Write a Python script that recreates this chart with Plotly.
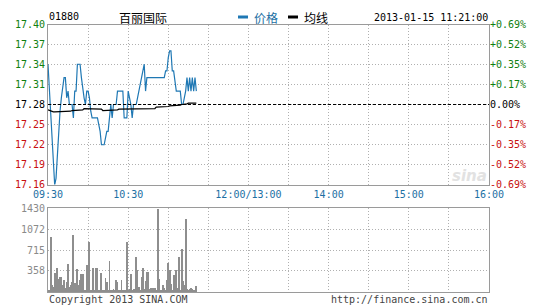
import numpy as np
import plotly.graph_objects as go

# ---------------- data ----------------
STOCK_CODE = "01880"
STOCK_NAME = "百丽国际"
TIMESTAMP = "2013-01-15 11:21:00"
PREV_CLOSE = 17.28
PCT_LIMIT = 0.69

PRICE = [
    17.34, 17.30, 17.27, 17.22, 17.19, 17.16, 17.17, 17.21, 17.24, 17.27,
    17.29, 17.31, 17.32, 17.32, 17.29, 17.30, 17.28, 17.28, 17.28, 17.26,
    17.30, 17.30, 17.34, 17.34, 17.34, 17.32, 17.30, 17.29, 17.28, 17.30,
    17.30, 17.29, 17.27, 17.26, 17.26, 17.26, 17.26, 17.26, 17.25, 17.24,
    17.22, 17.22, 17.22, 17.23, 17.24, 17.24, 17.26, 17.28, 17.26, 17.28,
    17.28, 17.28, 17.30, 17.30, 17.30, 17.30, 17.30, 17.26, 17.26, 17.26,
    17.30, 17.29, 17.28, 17.26, 17.28, 17.28, 17.28, 17.29, 17.30, 17.31,
    17.32, 17.33, 17.34, 17.30, 17.32, 17.32, 17.32, 17.32, 17.32, 17.32,
    17.32, 17.32, 17.32, 17.32, 17.32, 17.32, 17.32, 17.32, 17.33, 17.33,
    17.35, 17.36, 17.36, 17.33, 17.33, 17.31, 17.30, 17.30, 17.30, 17.30,
    17.28, 17.28, 17.29, 17.30, 17.32, 17.30, 17.32, 17.30, 17.32, 17.30,
    17.32, 17.30,
]

AVG_PRICE = (
    [17.272, 17.271, 17.270] + [17.269] * 10 + [17.270] * 5 + [17.271] * 5
    + [17.272] * 4 + [17.274] * 9 + [17.273] * 5 + [17.271] * 5
    + [17.272] * 7 + [17.273] * 10 + [17.274] * 18 + [17.276] * 3
    + [17.277] * 7 + [17.278] * 5 + [17.279] * 4 + [17.280] * 2
    + [17.281] * 3 + [17.282] * 7
)

VOLUME = [
    30, 20, 940, 120, 85, 330, 30, 410, 220, 250,
    250, 120, 205, 70, 170, 475, 85, 120, 170, 970,
    150, 70, 390, 120, 205, 300, 300, 35, 35, 460,
    35, 850, 30, 20, 410, 35, 410, 410, 20, 35,
    325, 35, 40, 240, 170, 20, 530, 20, 35, 50,
    40, 205, 170, 20, 20, 205, 35, 20, 20, 850,
    20, 50, 300, 20, 50, 50, 600, 375, 85, 20,
    250, 410, 50, 190, 340, 340, 50, 60, 60, 60,
    60, 20, 1410, 220, 30, 20, 120, 60, 20, 205,
    490, 375, 140, 40, 290, 220, 375, 70, 600, 40,
    730, 190, 120, 1240, 50, 20, 50, 70, 50, 20,
    30, 100,
]

GRID_MINUTES = list(range(0, 331, 30))
TIME_LABELS = {0: "09:30", 60: "10:30", 150: "12:00/13:00", 210: "14:00",
               270: "15:00", 330: "16:00"}
PRICE_TICK_TEXT = ["17.16", "17.19", "17.22", "17.25", "17.28",
                   "17.31", "17.34", "17.37", "17.40"]
PCT_TICK_TEXT = ["-0.69%", "-0.52%", "-0.35%", "-0.17%", "0.00%",
                 "+0.17%", "+0.35%", "+0.52%", "+0.69%"]
VOL_TICKS = [358, 715, 1072, 1430]
VOL_MAX = 1430

# ---------------- styling ----------------
W, H = 535, 306
MONO = "DejaVu Sans Mono"
CJK = "Noto Sans CJK SC"
GREEN = "#108010"
RED = "#c81010"
BLUE_TXT = "#1c6fa3"
LINE_BLUE = "#1f78b4"
GRID = "#b0b0b0"
BORDER = "#9a9a9a"


def px_x(p):
    return p / W


def px_y(p):
    return 1 - p / H


X0, X1 = 48, 489
PY0, PY1 = 24.5, 184.5
VY0, VY1 = 208, 292

minutes = np.arange(len(PRICE))
lo = PREV_CLOSE * (1 - PCT_LIMIT / 100)
hi = PREV_CLOSE * (1 + PCT_LIMIT / 100)
price_ticks = list(np.linspace(lo, hi, 9))
pct_ticks = list(np.linspace(-PCT_LIMIT, PCT_LIMIT, 9))


def colored(texts):
    out = []
    for i, t in enumerate(texts):
        c = RED if i < 4 else ("#000000" if i == 4 else GREEN)
        out.append(f'<span style="color:{c}">{t}</span>')
    return out


fig = go.Figure()

fig.add_trace(go.Scatter(x=minutes, y=PRICE, mode="lines",
                         line=dict(color=LINE_BLUE, width=1.2),
                         xaxis="x", yaxis="y", hoverinfo="skip"))
fig.add_trace(go.Scatter(x=minutes, y=AVG_PRICE, mode="lines",
                         line=dict(color="#000000", width=1.2),
                         xaxis="x", yaxis="y", hoverinfo="skip"))
fig.add_trace(go.Bar(x=minutes, y=VOLUME, width=0.7,
                     marker=dict(color="#8e8e8e", line=dict(width=0)),
                     xaxis="x2", yaxis="y3", hoverinfo="skip"))

axis_common = dict(showline=True, linecolor=BORDER, linewidth=1, mirror=True,
                   zeroline=False, gridcolor=GRID, griddash="1px,2px",
                   gridwidth=1, ticks="", fixedrange=True, automargin=False)

tick_text_time = [TIME_LABELS.get(m, "") for m in GRID_MINUTES]

fig.update_layout(
    width=W, height=H,
    margin=dict(l=0, r=0, t=0, b=0, autoexpand=False),
    paper_bgcolor="white", plot_bgcolor="white",
    showlegend=False,
    bargap=0,
    xaxis=dict(domain=[px_x(X0), px_x(X1)], range=[0, 330],
               tickmode="array", tickvals=GRID_MINUTES, ticktext=tick_text_time,
               tickfont=dict(family=MONO, size=10, color=BLUE_TXT),
               anchor="y", **axis_common),
    yaxis=dict(domain=[px_y(PY1), px_y(PY0)], range=[lo - 1e-6, hi + 1e-6],
               tickmode="array", tickvals=price_ticks,
               ticktext=colored(PRICE_TICK_TEXT),
               tickfont=dict(family=MONO, size=10),
               anchor="x", **axis_common),
    yaxis2=dict(overlaying="y", side="right", anchor="x",
                range=[-PCT_LIMIT - 1e-6, PCT_LIMIT + 1e-6],
                tickmode="array", tickvals=pct_ticks,
                ticktext=colored(PCT_TICK_TEXT),
                tickfont=dict(family=MONO, size=10),
                showgrid=False, showline=False, zeroline=False, ticks="",
                fixedrange=True, automargin=False),
    xaxis2=dict(domain=[px_x(X0), px_x(X1)], range=[0, 330],
                tickmode="array", tickvals=GRID_MINUTES, showticklabels=False,
                anchor="y3", **axis_common),
    yaxis3=dict(domain=[px_y(VY1), px_y(VY0)], range=[0, VOL_MAX],
                tickmode="array", tickvals=VOL_TICKS,
                ticktext=[str(v) for v in VOL_TICKS],
                tickfont=dict(family=MONO, size=10, color="#8a8a8a"),
                anchor="x2", **axis_common),
)

# need a trace on yaxis2 so it renders
fig.add_trace(go.Scatter(x=[0], y=[0], mode="markers", opacity=0,
                         xaxis="x", yaxis="y2", hoverinfo="skip"))

# previous-close dashed line
fig.add_shape(type="line", xref="x domain", yref="y", x0=0, x1=1,
              y0=PREV_CLOSE, y1=PREV_CLOSE,
              line=dict(color="#000000", width=1, dash="3px,2px"))

# legend swatches
fig.add_shape(type="rect", xref="paper", yref="paper",
              x0=px_x(238), x1=px_x(248), y0=px_y(18.5), y1=px_y(15.5),
              fillcolor=LINE_BLUE, line=dict(width=0))
fig.add_shape(type="rect", xref="paper", yref="paper",
              x0=px_x(288), x1=px_x(298), y0=px_y(18.5), y1=px_y(15.5),
              fillcolor="#000000", line=dict(width=0))


def ann(text, x, y, xanchor="left", font=None, **kw):
    fig.add_annotation(text=text, x=px_x(x), y=px_y(y), xref="paper",
                       yref="paper", xanchor=xanchor, yanchor="middle",
                       showarrow=False, font=font, **kw)


ann(STOCK_CODE, 47, 16, font=dict(family=MONO, size=10, color="#000"))
ann(STOCK_NAME, 117, 17, font=dict(family=CJK, size=12, color="#000"))
ann("价格", 252, 17, font=dict(family=CJK, size=12, color=BLUE_TXT))
ann("均线", 302, 17, font=dict(family=CJK, size=12, color="#000"))
ann(TIMESTAMP, 490, 17, xanchor="right",
    font=dict(family=MONO, size=10, color="#000"))
ann("Copyright 2013 SINA.COM", 47, 299,
    font=dict(family=MONO, size=10, color="#444"))
ann("http://finance.sina.com.cn", 490, 299, xanchor="right",
    font=dict(family=MONO, size=10, color="#444"))
ann("<i><b>sina</b></i>", 489, 176, xanchor="right",
    font=dict(family="DejaVu Sans", size=15, color="#e2e2e2"))

fig.write_html("out.html")
